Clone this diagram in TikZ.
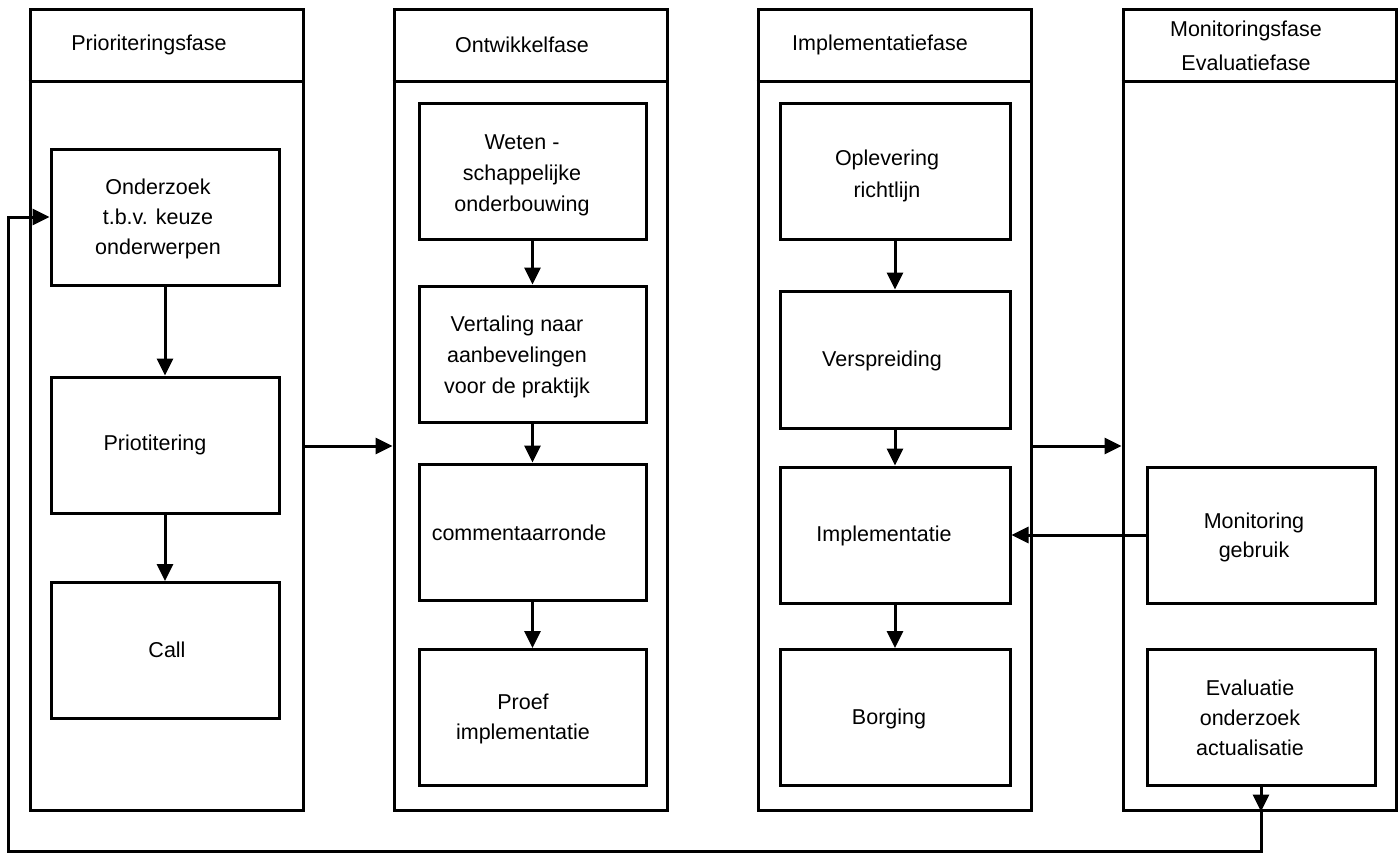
\documentclass[tikz,border=0pt]{standalone}
\usepackage{fontspec}
\setmainfont{Liberation Sans}
\usetikzlibrary{arrows.meta}
\begin{document}
\begin{tikzpicture}[x=1pt,y=-1pt,
  col/.style={draw, line width=3pt, rectangle, minimum width=273pt, minimum height=801pt, inner sep=0pt},
  stepbox/.style={draw, line width=3pt, rectangle, minimum width=228pt, minimum height=136pt, inner sep=0pt},
  lbl/.style={align=center, inner sep=0pt, font=\fontsize{21.5}{30}\selectfont},
  arr/.style={line width=3pt, -{Triangle[length=17pt,width=16pt]}},
  ln/.style={line width=3pt}]
\useasboundingbox (0,0) rectangle (1398,854);

% columns
\node[col] (c1) at (166.5,409.5) {};
\node[col] (c2) at (530.5,409.5) {};
\node[col] (c3) at (894.5,409.5) {};
\node[col] (c4) at (1259.5,409.5) {};
\coordinate (hl) at (0,81);
\draw[ln] (c1.west |- hl) -- (c1.east |- hl);
\draw[ln] (c2.west |- hl) -- (c2.east |- hl);
\draw[ln] (c3.west |- hl) -- (c3.east |- hl);
\draw[ln] (c4.west |- hl) -- (c4.east |- hl);

% headers
\node[lbl] (h1) at (149,45) {Prioriteringsfase};
\node[lbl] (h2) at (522,45) {Ontwikkelfase};
\node[lbl] (h3) at (880,45) {Implementatiefase};
\node[lbl, font=\fontsize{21.5}{34}\selectfont] (h4) at (1246,46) {Monitoringsfase\\Evaluatiefase};

% column 1 boxes
\node[stepbox] (b11) at (165,217) {};
\node[stepbox] (b12) at (165,445) {};
\node[stepbox] (b13) at (165,650.5) {};
% column 2 boxes
\node[stepbox, minimum width=227pt] (b21) at (532.5,171) {};
\node[stepbox, minimum width=227pt] (b22) at (532.5,354) {};
\node[stepbox, minimum width=227pt] (b23) at (532.5,532) {};
\node[stepbox, minimum width=227pt] (b24) at (532.5,717.5) {};
% column 3 boxes
\node[stepbox, minimum width=230pt] (b31) at (895,171) {};
\node[stepbox, minimum width=230pt, minimum height=137pt] (b32) at (895,359.5) {};
\node[stepbox, minimum width=230pt] (b33) at (895,535) {};
\node[stepbox, minimum width=230pt] (b34) at (895,717.5) {};
% column 4 boxes
\node[stepbox] (b41) at (1261,535) {};
\node[stepbox] (b42) at (1261,717.5) {};

% texts
\node[lbl] (t11) at (158,219) {Onderzoek\\t.b.v. keuze\\onderwerpen};
\node[lbl] (t12) at (155,445) {Priotitering};
\node[lbl] (t13) at (167,650) {Call};
\node[lbl, font=\fontsize{21.5}{31}\selectfont] (t21) at (522,175) {Weten -\\schappelijke\\onderbouwing};
\node[lbl, font=\fontsize{21.5}{31}\selectfont] (t22) at (517,357) {Vertaling naar\\aanbevelingen\\voor de praktijk};
\node[lbl] (t23) at (519,533) {commentaarronde};
\node[lbl] (t24) at (523,719) {Proef\\implementatie};
\node[lbl, font=\fontsize{21.5}{32}\selectfont] (t31) at (887,176) {Oplevering\\richtlijn};
\node[lbl] (t32) at (882,361) {Verspreiding};
\node[lbl] (t33) at (884,536) {Implementatie};
\node[lbl, font=\fontsize{21.5}{29}\selectfont] (t41) at (1254,537) {Monitoring\\gebruik};
\node[lbl] (t42) at (1250,718) {Evaluatie\\onderzoek\\actualisatie};
\node[lbl] (t34) at (889,719) {Borging};

% vertical arrows
\draw[arr] (b11.south) -- (b12.north);
\draw[arr] (b12.south) -- (b13.north);
\draw[arr] (b21.south) -- (b22.north);
\draw[arr] (b22.south) -- (b23.north);
\draw[arr] (b23.south) -- (b24.north);
\draw[arr] (b31.south) -- (b32.north);
\draw[arr] (b32.south) -- (b33.north);
\draw[arr] (b33.south) -- (b34.north);

% arrows between columns
\coordinate (hy) at (0,446);
\draw[arr] (c1.east |- hy) -- (c2.west |- hy);
\draw[arr] (c3.east |- hy) -- (c4.west |- hy);
\draw[arr] (b41.west) -- (b33.east);

% feedback loop
\coordinate (ev) at (c4.south -| b42.south);
\draw[arr] (b42.south) -- (ev);
\coordinate (lb) at (8,851.5);
\draw[arr] (ev) |- (lb) |- (b11.west);
\end{tikzpicture}
\end{document}
